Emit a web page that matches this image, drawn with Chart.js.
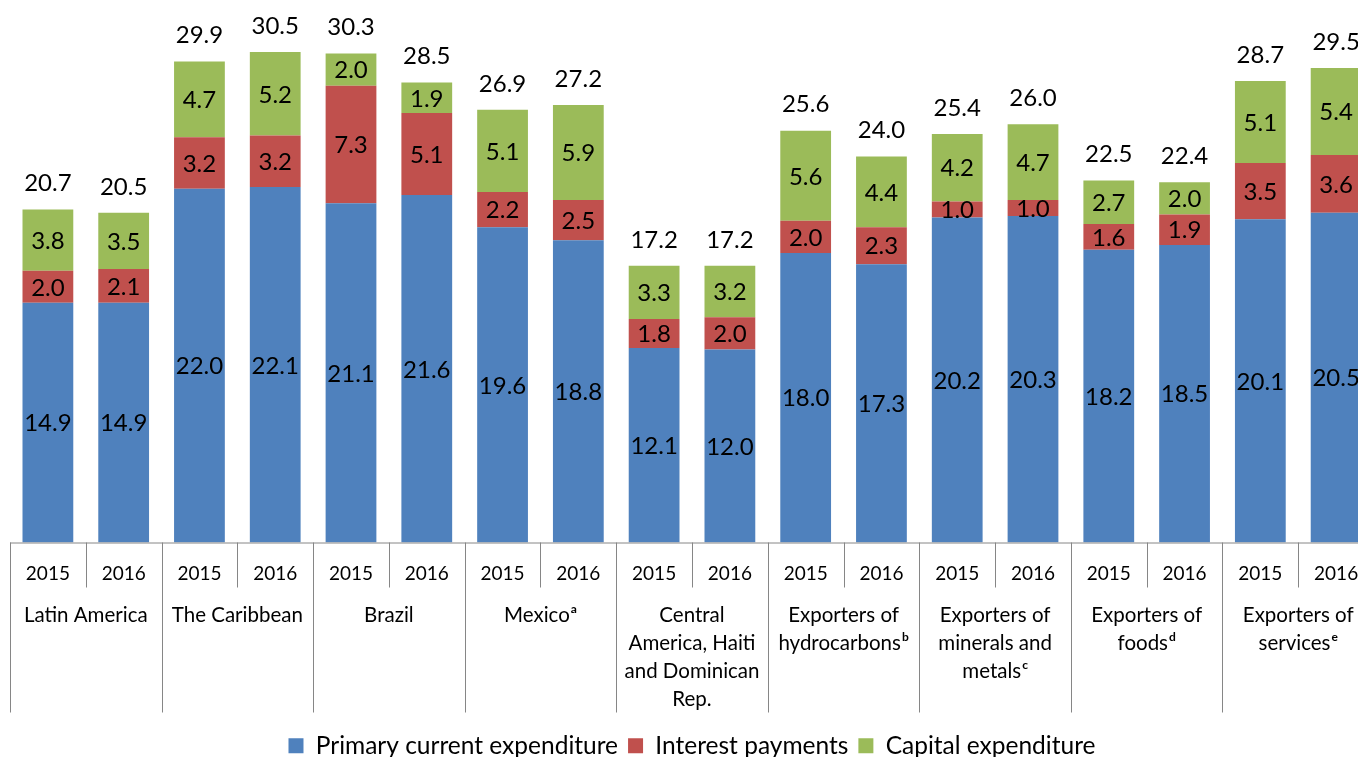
<!DOCTYPE html>
<html>
<head>
<meta charset="utf-8">
<script src="https://cdn.jsdelivr.net/npm/chart.js@4.4.1/dist/chart.umd.min.js"></script>
<style>
  html, body { margin:0; padding:0; background:#fff; overflow:hidden; }
</style>
</head>
<body>
<canvas id="chart" width="1376" height="768"></canvas>
<script>
// ── Data ──
const years = ['2015','2016','2015','2016','2015','2016','2015','2016','2015','2016',
               '2015','2016','2015','2016','2015','2016','2015','2016'];
const groupLines = [
  ['Latin America'],
  ['The Caribbean'],
  ['Brazil'],
  ['Mexico'],
  ['Central', 'America, Haiti', 'and Dominican', 'Rep.'],
  ['Exporters of', 'hydrocarbons'],
  ['Exporters of', 'minerals and', 'metals'],
  ['Exporters of', 'foods'],
  ['Exporters of', 'services']
];
const groupNotes = ['', '', '', 'a', '', 'b', 'c', 'd', 'e'];

const primary  = [14.9,14.9,22.0,22.1,21.1,21.6,19.6,18.8,12.1,12.0,18.0,17.3,20.2,20.3,18.2,18.5,20.1,20.5];
const interest = [2.0,2.1,3.2,3.2,7.3,5.1,2.2,2.5,1.8,2.0,2.0,2.3,1.0,1.0,1.6,1.9,3.5,3.6];
const capital  = [3.8,3.5,4.7,5.2,2.0,1.9,5.1,5.9,3.3,3.2,5.6,4.4,4.2,4.7,2.7,2.0,5.1,5.4];
const totals   = [20.7,20.5,29.9,30.5,30.3,28.5,26.9,27.2,17.2,17.2,25.6,24.0,25.4,26.0,22.5,22.4,28.7,29.5];

const FONT = 'Lato';
const AXIS_COLOR = '#868686';
const X_AXIS_H = 181;   // space under the plot for the two label rows

/* ── value labels inside segments + totals on top ── */
const valueLabels = {
  id: 'valueLabels',
  afterDatasetsDraw(chart) {
    const ctx = chart.ctx;
    ctx.save();
    ctx.fillStyle = '#000';
    ctx.font = `24px ${FONT}`;
    ctx.textAlign = 'center';
    ctx.textBaseline = 'middle';
    chart.data.datasets.forEach((ds, di) => {
      chart.getDatasetMeta(di).data.forEach((el, i) => {
        ctx.fillText(ds.data[i].toFixed(1), el.x, (el.y + el.base) / 2 + 1);
      });
    });
    const top = chart.getDatasetMeta(chart.data.datasets.length - 1).data;
    top.forEach((el, i) => {
      ctx.fillText(totals[i].toFixed(1), el.x, el.y - 26);
    });
    ctx.restore();
  }
};

/* ── two level category axis ── */
const multiAxis = {
  id: 'multiAxis',
  afterDraw(chart) {
    const { ctx, chartArea: a, scales: { x } } = chart;
    const bot = a.bottom;
    const half = (x.getPixelForValue(1) - x.getPixelForValue(0)) / 2;
    ctx.save();
    ctx.strokeStyle = AXIS_COLOR;
    ctx.lineWidth = 1;
    ctx.beginPath();
    ctx.moveTo(a.left, bot + 0.5);
    ctx.lineTo(a.right, bot + 0.5);
    for (let i = 0; i <= years.length; i++) {
      const px = Math.round(x.getPixelForValue(i) - half) + 0.5;
      const len = i % 2 === 0 ? 170 : 45;
      ctx.moveTo(px, bot);
      ctx.lineTo(px, bot + len);
    }
    ctx.stroke();

    ctx.fillStyle = '#000';
    ctx.textAlign = 'center';
    ctx.textBaseline = 'middle';
    ctx.font = `19px ${FONT}`;
    years.forEach((y, i) => ctx.fillText(y, x.getPixelForValue(i), bot + 31));

    groupLines.forEach((lines, g) => {
      const cx = (x.getPixelForValue(g * 2) + x.getPixelForValue(g * 2 + 1)) / 2;
      lines.forEach((t, li) => {
        const ly = bot + 73 + li * 28;
        const note = li === lines.length - 1 ? groupNotes[g] : '';
        ctx.font = `20.5px ${FONT}`;
        const w = ctx.measureText(t).width;
        ctx.font = `bold 12px ${FONT}`;
        const nw = note ? ctx.measureText(note).width + 1 : 0;
        const sx = cx - (w + nw) / 2;
        ctx.textAlign = 'left';
        ctx.font = `20.5px ${FONT}`;
        ctx.fillText(t, sx, ly);
        if (note) {
          ctx.font = `bold 12px ${FONT}`;
          ctx.fillText(note, sx + w + 1, ly - 6);
        }
        ctx.textAlign = 'center';
      });
    });
    ctx.restore();
  }
};

new Chart(document.getElementById('chart'), {
  type: 'bar',
  data: {
    labels: years,
    datasets: [
      { label: 'Primary current expenditure', data: primary,  backgroundColor: '#4F81BD' },
      { label: 'Interest payments',           data: interest, backgroundColor: '#C0504D' },
      { label: 'Capital expenditure',         data: capital,  backgroundColor: '#9BBB59' }
    ]
  },
  options: {
    responsive: false,
    animation: false,
    layout: { padding: { left: 10, right: 2, top: 0, bottom: 0 } },
    datasets: { bar: { barPercentage: 0.67, categoryPercentage: 1 } },
    scales: {
      x: {
        stacked: true,
        grid: { display: false },
        border: { display: false },
        ticks: { display: false },
        afterFit(s) { s.height = X_AXIS_H; }
      },
      y: { stacked: true, display: false, min: 0, max: 33.73 }
    },
    plugins: {
      legend: {
        position: 'bottom',
        labels: { color: '#000', font: { family: FONT, size: 24.5 }, boxWidth: 15, boxHeight: 15, padding: 10 }
      },
      tooltip: { enabled: false }
    }
  },
  plugins: [valueLabels, multiAxis]
});
</script>
</body>
</html>
